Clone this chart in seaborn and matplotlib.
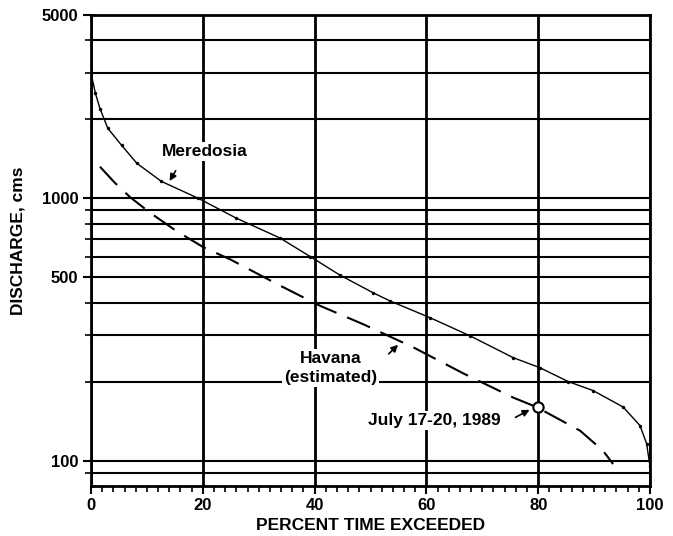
import matplotlib
matplotlib.use("Agg")
import matplotlib.pyplot as plt
from matplotlib.ticker import FixedLocator, NullFormatter, MultipleLocator
import numpy as np
import pandas as pd
import seaborn as sns

# ---- data ----
mer_x = [0, 0.8, 1.6, 3.0, 5.5, 8.2, 12.6, 19.2, 26, 33.8, 39.2, 44.5, 50.5, 53.5,
         60.6, 67.8, 75.5, 80.3, 85.4, 89.8, 95.2, 98.2, 99.4, 100]
mer_y = [3000, 2510, 2200, 1850, 1590, 1360, 1160, 1000, 840, 706, 600, 510, 436, 406,
         351, 299, 247, 226, 200, 185, 160, 136, 116, 95]
hav_x = [1.6, 4.2, 7, 10.6, 15.3, 20.1, 24.9, 33.8, 41, 48.7, 57.7, 66.6, 75.5, 79.7,
         87.5, 91.6, 93.4]
hav_y = [1320, 1150, 1010, 880, 750, 651, 585, 465, 389, 331, 270, 215, 174, 160,
         130, 109, 97]
event_x = [80]
event_y = [160]

y_major = [100, 500, 1000, 5000]
y_minor = [90, 200, 300, 400, 600, 700, 800, 900, 2000, 3000, 4000]
x_major = [0, 20, 40, 60, 80, 100]

sns.set_style("ticks")
plt.rcParams['font.family'] = ['Liberation Sans', 'DejaVu Sans']
plt.rcParams['font.weight'] = 'bold'
for k in ["text.color", "axes.labelcolor", "xtick.color", "ytick.color", "axes.edgecolor"]:
    plt.rcParams[k] = "black"

fig = plt.figure(figsize=(6.73, 5.36), dpi=100)
ax = fig.add_axes([91/673, 1-486/536, (650-91)/673, (486-15)/536])

mer = pd.DataFrame({"x": mer_x, "y": mer_y})
hav = pd.DataFrame({"x": hav_x, "y": hav_y})

sns.lineplot(data=mer, x="x", y="y", ax=ax, color="black", lw=1.0,
             marker="o", markersize=2.5, markeredgewidth=0, sort=False, zorder=4)
sns.lineplot(data=hav, x="x", y="y", ax=ax, color="black", lw=1.5,
             sort=False, zorder=4, dashes=False)
ax.lines[-1].set_dashes([12, 5.5])
sns.scatterplot(x=event_x, y=event_y, ax=ax, s=55, facecolor="white",
                edgecolor="black", linewidth=1.5, zorder=6)

ax.set_yscale("log")
ax.set_xlim(0, 100)
ax.set_ylim(80, 5000)

ax.yaxis.set_major_locator(FixedLocator(y_major))
ax.yaxis.set_minor_locator(FixedLocator(y_minor))
ax.yaxis.set_minor_formatter(NullFormatter())
ax.set_yticklabels([str(v) for v in y_major])
ax.xaxis.set_major_locator(FixedLocator(x_major))
ax.xaxis.set_minor_locator(MultipleLocator(2))

ax.set_axisbelow(True)
ax.grid(which="both", axis="y", color="black", lw=1.5)
ax.grid(which="major", axis="x", color="black", lw=2.0)

for s in ax.spines.values():
    s.set_linewidth(2.0)
    s.set_color("black")

ax.tick_params(axis="both", which="major", direction="out", length=6, width=1.5,
               labelsize=12, colors="black", pad=3)
ax.tick_params(axis="both", which="minor", direction="out", length=4, width=1.2,
               colors="black")
for lab in ax.get_xticklabels() + ax.get_yticklabels():
    lab.set_fontweight("bold")

ax.set_xlabel("PERCENT TIME EXCEEDED", fontsize=12.5, fontweight="bold", labelpad=3)
ax.set_ylabel("DISCHARGE, cms", fontsize=12.5, fontweight="bold")
ax.yaxis.set_label_coords(-0.118, 0.52)

box = dict(facecolor="white", edgecolor="none", pad=1.5)
ax.text(20.4, 1510, "Meredosia", ha="center", va="center", fontsize=12.5,
        fontweight="bold", bbox=box, zorder=5)
ax.annotate("", xy=(13.8, 1140), xytext=(15.4, 1300),
            arrowprops=dict(arrowstyle="-|>", color="black", lw=1.2, mutation_scale=10),
            zorder=5)
ax.text(42.9, 225, "Havana\n(estimated)", ha="center", va="center", fontsize=12.5,
        fontweight="bold", linespacing=1.3, bbox=box, zorder=5)
ax.annotate("", xy=(55.3, 281), xytext=(52.9, 251),
            arrowprops=dict(arrowstyle="-|>", color="black", lw=1.2, mutation_scale=10),
            zorder=5)
ax.text(61.5, 142, "July 17-20, 1989", ha="center", va="center", fontsize=12.5,
        fontweight="bold", bbox=box, zorder=5)
ax.annotate("", xy=(78.9, 158), xytext=(75.5, 144.5),
            arrowprops=dict(arrowstyle="-|>", color="black", lw=1.2, mutation_scale=10),
            zorder=5)

fig.savefig("out.png", dpi=100)
